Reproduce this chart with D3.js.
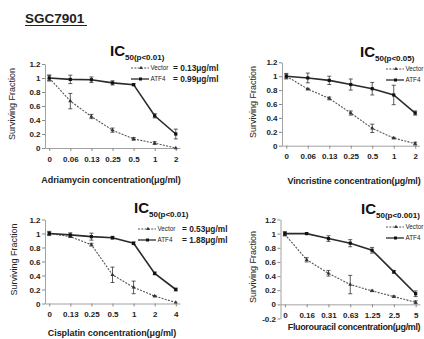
<!DOCTYPE html>
<html>
<head>
    <meta charset="utf-8">
    <title>SGC7901 IC50</title>
    <script src="https://cdnjs.cloudflare.com/ajax/libs/d3/7.8.5/d3.min.js"></script>
    <style>
        body{
            margin: 0;
            background: #fff;
        }
        svg{
            display: block;
            font-family: "Liberation Sans", Arial, sans-serif;
        }
        .axis path, .axis line{
            stroke: #8a8a8a;
        }
        .axis text{
            font-weight: bold;
            font-size: 8px;
            fill: #222;
        }
    </style>
</head>
<body>
    <svg id="chart" width="424" height="339"></svg>

    <script>
        // tick labels
        var yTicks = [0, 0.2, 0.4, 0.6, 0.8, 1, 1.2];
        var yTicksFu = [-0.2, 0, 0.2, 0.4, 0.6, 0.8, 1, 1.2];

        // Adriamycin
        var adrDoses = ["0", "0.06", "0.13", "0.25", "0.5", "1", "2"];
        var adrVector = [1.0, 0.67, 0.45, 0.255, 0.13, 0.07, 0.0];
        var adrVectorErr = [0.04, 0.11, 0.03, 0.03, 0.02, 0.02, 0];
        var adrAtf4 = [1.0, 0.98, 0.975, 0.93, 0.905, 0.46, 0.2];
        var adrAtf4Err = [0.04, 0.06, 0.04, 0.03, 0.015, 0.03, 0.07];

        // Vincristine
        var vinDoses = ["0", "0.06", "0.13", "0.25", "0.5", "1", "2"];
        var vinVector = [1.0, 0.815, 0.68, 0.47, 0.25, 0.11, 0.03];
        var vinVectorErr = [0.03, 0.01, 0.02, 0.03, 0.06, 0.01, 0.02];
        var vinAtf4 = [1.0, 0.975, 0.94, 0.88, 0.82, 0.73, 0.47];
        var vinAtf4Err = [0.04, 0.07, 0.06, 0.08, 0.09, 0.14, 0.03];

        // Cisplatin
        var cisDoses = ["0", "0.13", "0.25", "0.5", "1", "2", "4"];
        var cisVector = [1.0, 0.955, 0.84, 0.41, 0.23, 0.105, 0.015];
        var cisVectorErr = [0.02, 0.01, 0.02, 0.11, 0.09, 0.01, 0];
        var cisAtf4 = [1.0, 0.98, 0.955, 0.94, 0.86, 0.43, 0.2];
        var cisAtf4Err = [0.03, 0.03, 0.05, 0.02, 0.02, 0.02, 0.02];

        // Fluorouracil
        var fuDoses = ["0", "0.16", "0.31", "0.63", "1.25", "2.5", "5"];
        var fuVector = [0.99, 0.63, 0.44, 0.28, 0.19, 0.11, 0.03];
        var fuVectorErr = [0.02, 0.03, 0.04, 0.13, 0.01, 0.01, 0.02];
        var fuAtf4 = [1.0, 1.0, 0.93, 0.865, 0.765, 0.46, 0.15];
        var fuAtf4Err = [0.03, 0.01, 0.04, 0.05, 0.04, 0.02, 0.04];

        var seriesNames = ["Vector", "ATF4"];

        var svg = d3.select("#chart");

        // header
        svg.append("text")
            .attr("x", 25).attr("y", 23)
            .attr("font-size", 13.5).attr("font-weight", "bold")
            .attr("fill", "#222")
            .text("SGC7901");
        svg.append("line")
            .attr("x1", 25).attr("x2", 87)
            .attr("y1", 25.5).attr("y2", 25.5)
            .attr("stroke", "#222").attr("stroke-width", 1.2);

        var panels = [
            {doses: adrDoses, vector: adrVector, vectorErr: adrVectorErr, atf4: adrAtf4, atf4Err: adrAtf4Err,
             ticks: yTicks, yd: [0, 1.2], yr: [148, 64], xr: [45, 180],
             xlabel: "Adriamycin concentration(μg/ml)", xlx: 111, xly: 183, ls: -0.05, ylx: 12,
             p: "50(p<0.01)", tx: 110, ty: 56,
             lx: 131, ly: 68, ex: 173, ic: ["= 0.13μg/ml", "= 0.99μg/ml"]},
            {doses: vinDoses, vector: vinVector, vectorErr: vinVectorErr, atf4: vinAtf4, atf4Err: vinAtf4Err,
             ticks: yTicks, yd: [0, 1.2], yr: [145.7, 62.3], xr: [282, 419.5],
             xlabel: "Vincristine concentration(μg/ml)", xlx: 354, xly: 184, ls: -0.15, ylx: 253,
             p: "50(p<0.05)", tx: 360, ty: 57,
             lx: 386, ly: 69, ex: 440, ic: ["", ""]},
            {doses: cisDoses, vector: cisVector, vectorErr: cisVectorErr, atf4: cisAtf4, atf4Err: cisAtf4Err,
             ticks: yTicks, yd: [0, 1.2], yr: [303.5, 219.5], xr: [45, 180],
             xlabel: "Cisplatin concentration(μg/ml)", xlx: 112, xly: 336, ls: -0.05, ylx: 14,
             p: "50(p<0.01)", tx: 134, ty: 213,
             lx: 138, ly: 229, ex: 182, ic: ["= 0.53μg/ml", "= 1.88μg/ml"]},
            {doses: fuDoses, vector: fuVector, vectorErr: fuVectorErr, atf4: fuAtf4, atf4Err: fuAtf4Err,
             ticks: yTicksFu, yd: [-0.2, 1.2], yr: [318.5, 219.5], xr: [280.5, 420],
             xlabel: "Fluorouracil concentration(μg/ml)", xlx: 354, xly: 330, ls: -0.35, ylx: 253,
             p: "50(p<0.001)", tx: 361, ty: 214,
             lx: 386, ly: 227, ex: 440, ic: ["", ""]}
        ];

        panels.forEach(drawPanel);

        function drawPanel(p){
            var g = svg.append("g");

            var xScale = d3.scalePoint().domain(p.doses).range(p.xr).padding(0.2);
            var yScale = d3.scaleLinear().domain(p.yd).range(p.yr);

            var yAxis = d3.axisLeft(yScale)
                            .tickValues(p.ticks)
                            .tickSize(3)
                            .tickSizeOuter(0)
                            .tickPadding(1.5)
                            .tickFormat(d => String(+d.toFixed(1)));

            var xAxis = d3.axisBottom(xScale)
                            .tickSize(3)
                            .tickSizeOuter(0)
                            .tickPadding(5);

            g.append("g")
                .attr("class", "axis")
                .attr("transform", `translate(${p.xr[0]},0)`)
                .call(yAxis);

            g.append("g")
                .attr("class", "axis")
                .attr("transform", `translate(0,${yScale(0)})`)
                .call(xAxis);

            g.selectAll(".axis .domain").attr("stroke-width", 0.8);

            // axis titles
            g.append("text")
                .attr("x", p.xlx).attr("y", p.xly)
                .attr("text-anchor", "middle")
                .attr("font-size", 9).attr("font-weight", "bold")
                .attr("letter-spacing", p.ls)
                .attr("fill", "#222")
                .text(p.xlabel);

            g.append("text")
                .attr("transform", `translate(${p.ylx},${(p.yr[0] + p.yr[1]) / 2 - 2}) rotate(-90)`)
                .attr("dy", "0.35em")
                .attr("text-anchor", "middle")
                .attr("font-size", 9)
                .attr("fill", "#222")
                .text("Surviving Fraction");

            // IC50 title
            var t = g.append("text")
                .attr("x", p.tx).attr("y", p.ty)
                .attr("font-size", 15).attr("font-weight", "bold")
                .attr("fill", "#111")
                .text("IC");
            t.append("tspan")
                .attr("font-size", 8).attr("dy", 4)
                .text(p.p);

            var series = [
                {name: seriesNames[0], values: p.vector, err: p.vectorErr, dash: "2,1.3", color: "#555", width: 1.1},
                {name: seriesNames[1], values: p.atf4, err: p.atf4Err, dash: null, color: "#2a2a2a", width: 1.6}
            ];

            var line = d3.line()
                            .x((d, i) => xScale(p.doses[i]))
                            .y(d => yScale(d));

            series.forEach(function(s){
                g.append("path")
                    .attr("d", line(s.values))
                    .attr("fill", "none")
                    .attr("stroke", s.color)
                    .attr("stroke-width", s.width)
                    .attr("stroke-dasharray", s.dash);
            });

            // error bars
            series.forEach(function(s){
                s.values.forEach(function(v, i){
                    var e = s.err[i];
                    if (e < 0.008) return;
                    var cx = xScale(p.doses[i]);
                    var y1 = yScale(v - e), y2 = yScale(v + e);
                    g.append("line")
                        .attr("x1", cx).attr("x2", cx)
                        .attr("y1", y1).attr("y2", y2)
                        .attr("stroke", "#333").attr("stroke-width", 0.8);
                    [y1, y2].forEach(function(yy){
                        g.append("line")
                            .attr("x1", cx - 2).attr("x2", cx + 2)
                            .attr("y1", yy).attr("y2", yy)
                            .attr("stroke", "#333").attr("stroke-width", 0.8);
                    });
                });
            });

            // markers
            g.selectAll(".vmark")
                .data(p.vector)
                .enter()
                .append("path")
                .attr("d", d3.symbol().type(d3.symbolTriangle).size(7))
                .attr("transform", (d, i) => `translate(${xScale(p.doses[i])},${yScale(d)})`)
                .attr("fill", "#333");

            g.selectAll(".amark")
                .data(p.atf4)
                .enter()
                .append("rect")
                .attr("x", (d, i) => xScale(p.doses[i]) - 1.6)
                .attr("y", d => yScale(d) - 1.6)
                .attr("width", 3.2).attr("height", 3.2)
                .attr("fill", "#111");

            // legend
            series.forEach(function(s, k){
                var ly = p.ly + k * 11;
                g.append("line")
                    .attr("x1", p.lx).attr("x2", p.lx + 18)
                    .attr("y1", ly).attr("y2", ly)
                    .attr("stroke", s.color)
                    .attr("stroke-width", k ? 1.3 : 1)
                    .attr("stroke-dasharray", s.dash);
                if (k) {
                    g.append("rect")
                        .attr("x", p.lx + 8).attr("y", ly - 1.5)
                        .attr("width", 3).attr("height", 3)
                        .attr("fill", "#111");
                } else {
                    g.append("path")
                        .attr("d", d3.symbol().type(d3.symbolTriangle).size(6))
                        .attr("transform", `translate(${p.lx + 10},${ly})`)
                        .attr("fill", "#333");
                }
                g.append("text")
                    .attr("x", p.lx + 19.5).attr("y", ly)
                    .attr("dy", "0.35em")
                    .attr("font-size", 6.3)
                    .attr("fill", "#222")
                    .text(s.name);
                g.append("text")
                    .attr("x", p.ex).attr("y", ly)
                    .attr("dy", "0.35em")
                    .attr("font-size", 8.3).attr("font-weight", "bold")
                    .attr("fill", "#222")
                    .text(p.ic[k]);
            });
        }
    </script>
</body>
</html>
